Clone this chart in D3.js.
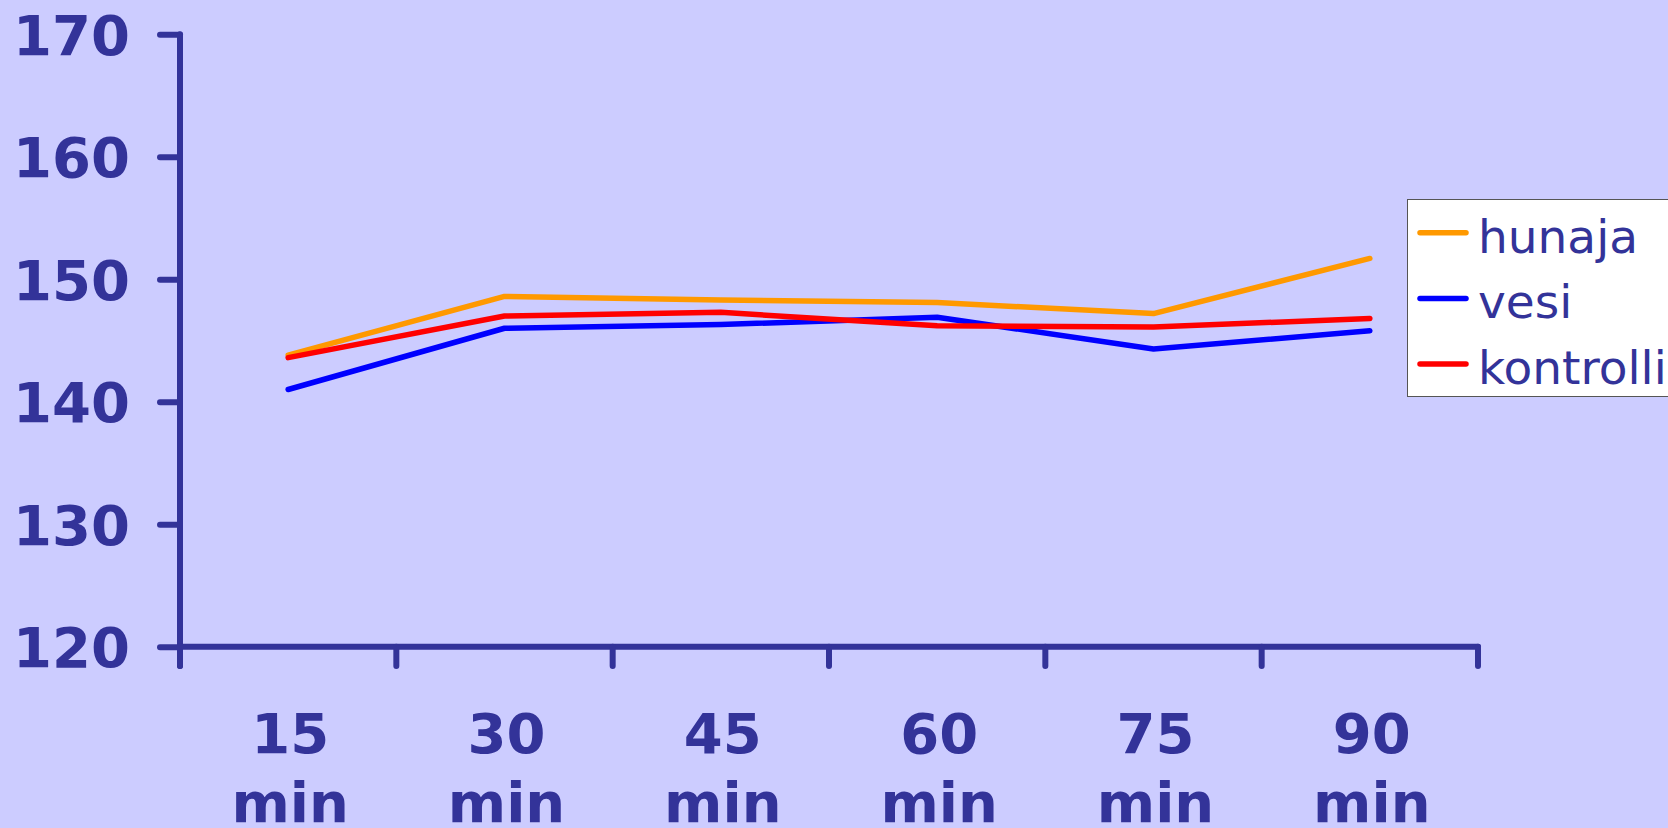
<!DOCTYPE html>
<html>
<head>
<meta charset="utf-8">
<script src="https://cdn.jsdelivr.net/npm/d3@7/dist/d3.min.js"></script>
<style>
  html, body { margin: 0; padding: 0; background: #CCCCFF; overflow: hidden; }
  svg { display: block; }
</style>
</head>
<body>
<svg id="chart" width="1668" height="828"></svg>
<script>
// Time points (minutes after intake)
const categories = ["15", "30", "45", "60", "75", "90"];
const categoryUnit = "min";

// Series values
const hunaja    = [143.8, 148.6, 148.3, 148.1, 147.2, 151.7];
const vesi      = [141.0, 146.0, 146.3, 146.9, 144.3, 145.8];
const kontrolli = [143.6, 147.0, 147.3, 146.2, 146.1, 146.8];

const seriesNames  = ["hunaja", "vesi", "kontrolli"];
const seriesColors = ["#FF9900", "#0000FF", "#FF0000"];

// Y axis ticks
const yTicks = [120, 130, 140, 150, 160, 170];

const series = [hunaja, vesi, kontrolli].map((values, i) => ({
  name: seriesNames[i], color: seriesColors[i], values
}));

const ink = "#333399";
const font = "'DejaVu Sans', Verdana, sans-serif";

const svg = d3.select("#chart");
const plot = { left: 180, right: 1478, top: 34.3, bottom: 646.7 };

const x = d3.scaleBand().domain(categories).range([plot.left, plot.right]);
const y = d3.scaleLinear().domain([120, 170]).range([plot.bottom, plot.top]);

// Y axis
const yAxis = svg.append("g")
  .attr("transform", `translate(${plot.left},0)`)
  .call(d3.axisLeft(y).tickValues(yTicks).tickSize(20).tickPadding(30).tickFormat(d3.format("d")));
yAxis.select(".domain").remove();
yAxis.append("line")
  .attr("x1", 0).attr("x2", 0)
  .attr("y1", plot.top).attr("y2", plot.bottom + 19.3)
  .attr("stroke", ink).attr("stroke-width", 6).attr("stroke-linecap", "round");
yAxis.selectAll(".tick line")
  .attr("stroke", ink).attr("stroke-width", 6).attr("stroke-linecap", "round");
yAxis.selectAll(".tick text")
  .attr("fill", ink)
  .attr("font-family", font).attr("font-weight", "bold").attr("font-size", 56)
  .attr("dy", "0.36em");

// X axis
const xAxis = svg.append("g")
  .attr("transform", `translate(0,${plot.bottom})`);
xAxis.append("line")
  .attr("x1", plot.left).attr("x2", plot.right)
  .attr("y1", 0).attr("y2", 0)
  .attr("stroke", ink).attr("stroke-width", 6).attr("stroke-linecap", "round");
const boundaries = categories.map(c => x(c)).concat([plot.right]);
xAxis.selectAll("line.xtick")
  .data(boundaries)
  .join("line")
  .attr("class", "xtick")
  .attr("x1", d => d).attr("x2", d => d)
  .attr("y1", 0).attr("y2", 19.3)
  .attr("stroke", ink).attr("stroke-width", 6).attr("stroke-linecap", "round");

const xLabels = xAxis.selectAll("text.xlabel")
  .data(categories)
  .join("text")
  .attr("class", "xlabel")
  .attr("x", d => x(d) + x.bandwidth() / 2 + 2)
  .attr("y", 106)
  .attr("text-anchor", "middle")
  .attr("fill", ink)
  .attr("font-family", font).attr("font-weight", "bold").attr("font-size", 56);
xLabels.append("tspan").text(d => d);
xLabels.append("tspan")
  .attr("x", d => x(d) + x.bandwidth() / 2 + 2)
  .attr("dy", 69)
  .text(categoryUnit);

// Lines
const line = d3.line()
  .x((d, i) => x(categories[i]) + x.bandwidth() / 2)
  .y(d => y(d));

svg.append("g").selectAll("path")
  .data(series)
  .join("path")
  .attr("d", d => line(d.values))
  .attr("fill", "none")
  .attr("stroke", d => d.color)
  .attr("stroke-width", 5.5)
  .attr("stroke-linecap", "round")
  .attr("stroke-linejoin", "round");

// Legend
const legend = svg.append("g");
legend.append("rect")
  .attr("x", 1407.5).attr("y", 199.5)
  .attr("width", 300).attr("height", 197)
  .attr("fill", "#FFFFFF")
  .attr("stroke", "#555555").attr("stroke-width", 1);

const items = legend.selectAll("g.item")
  .data(series)
  .join("g")
  .attr("class", "item")
  .attr("transform", (d, i) => `translate(0,${232.7 + i * 65.7})`);
items.append("line")
  .attr("x1", 1420).attr("x2", 1466)
  .attr("y1", 0).attr("y2", 0)
  .attr("stroke", d => d.color)
  .attr("stroke-width", 5.5)
  .attr("stroke-linecap", "round");
items.append("text")
  .attr("x", 1478)
  .attr("y", 20)
  .attr("fill", ink)
  .attr("font-family", font).attr("font-size", 47)
  .text(d => d.name);
</script>
</body>
</html>
